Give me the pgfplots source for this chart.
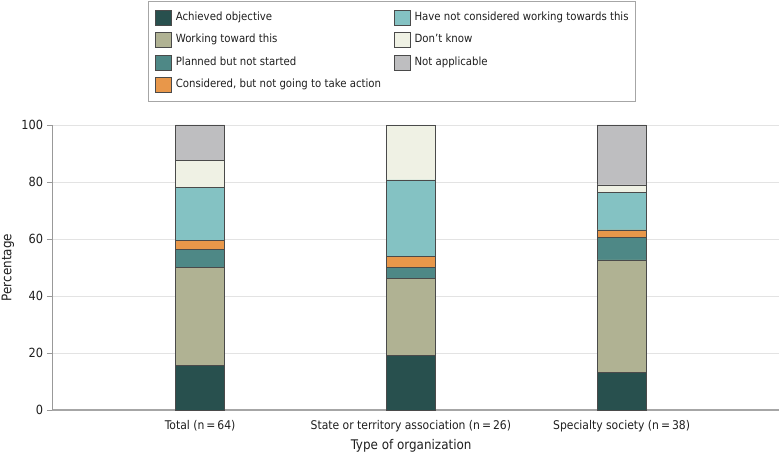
\documentclass[border=0pt]{standalone}
\usepackage{fontspec}
\setmainfont{DejaVu Sans Condensed}
\usepackage{pgfplots}
\pgfplotsset{compat=1.18}
\definecolor{cA}{HTML}{28504E}
\definecolor{cW}{HTML}{B0B293}
\definecolor{cP}{HTML}{4E8886}
\definecolor{cC}{HTML}{E8974A}
\definecolor{cH}{HTML}{84C2C3}
\definecolor{cD}{HTML}{EFF1E4}
\definecolor{cN}{HTML}{BEBEC0}
\definecolor{edge}{HTML}{4A4A4A}
\newcommand\fs{\fontsize{11.3bp}{13bp}\selectfont}
\begin{document}
\fs
\begin{tikzpicture}
\useasboundingbox (-52bp,-44bp) rectangle (728bp,410bp);
\begin{axis}[
  scale only axis, width=727bp, height=285bp,
  at={(0,0)}, anchor=south west,
  ybar stacked, bar width=49bp,
  xmin=-0.703, xmax=2.747, ymin=0, ymax=100,
  xtick={0,1,2},
  xticklabels={Total (n\,=\,64), State or territory association (n\,=\,26), Specialty society (n\,=\,38)},
  ytick={0,20,40,60,80,100},
  axis x line*=bottom, axis y line*=left,
  x axis line style={draw=gray!70, line width=1.2bp, -},
  y axis line style={draw=gray!80, line width=0.9bp, -},
  major x tick style={draw=none},
  major y tick style={draw=gray!80, line width=0.8bp},
  tick align=outside, major tick length=5bp,
  ymajorgrids, grid style={draw=gray!22, line width=0.9bp},
  /pgf/number format/assume math mode=true,
  xticklabel style={font=\fontsize{12bp}{14bp}\selectfont, text=black!88, yshift=-1bp},
  yticklabel style={font=\fontsize{12.6bp}{14bp}\selectfont, text=black!88},
  xlabel={Type of organization}, ylabel={Percentage},
  label style={font=\fontsize{13.3bp}{15bp}\selectfont, text=black!88},
  xlabel style={at={(axis description cs:0.494,-0.126)}, anchor=center},
  ylabel style={at={(axis description cs:-0.0605,0.5)}, anchor=center},
  legend image code/.code={\draw[#1, draw=edge, line width=0.5bp] (0bp,-7.6bp) rectangle (15.5bp,7.6bp);},
  legend columns=2,
  legend cell align=left,
  legend style={at={(axis description cs:0.132,1.435)}, anchor=north west,
    draw=gray!70, line width=0.8bp, inner xsep=7bp, inner ysep=8.3bp,
    font=\fs, text=black!88,
    nodes={inner sep=0pt, text height=8.5bp, text depth=2.5bp},
    row sep=6.7bp, column sep=4.5bp,
    /tikz/every even column/.append style={column sep=13bp}},
  every axis plot/.append style={draw=edge, line width=0.6bp},
]
\addlegendimage{fill=cA}\addlegendentry{Achieved objective}
\addlegendimage{fill=cH}\addlegendentry{Have not considered working towards this}
\addlegendimage{fill=cW}\addlegendentry{Working toward this}
\addlegendimage{fill=cD}\addlegendentry{Don't know}
\addlegendimage{fill=cP}\addlegendentry{Planned but not started}
\addlegendimage{fill=cN}\addlegendentry{Not applicable}
\addlegendimage{fill=cC}\addlegendentry{Considered, but not going to take action}
\addplot[fill=cA, forget plot] coordinates {(0,15.625) (1,19.231) (2,13.158)};
\addplot[fill=cW, forget plot] coordinates {(0,34.375) (1,26.923) (2,39.474)};
\addplot[fill=cP, forget plot] coordinates {(0,6.25) (1,3.846) (2,7.895)};
\addplot[fill=cC, forget plot] coordinates {(0,3.125) (1,3.846) (2,2.632)};
\addplot[fill=cH, forget plot] coordinates {(0,18.75) (1,26.923) (2,13.158)};
\addplot[fill=cD, forget plot] coordinates {(0,9.375) (1,19.231) (2,2.632)};
\addplot[fill=cN, forget plot] coordinates {(0,12.5) (1,0) (2,21.053)};
\end{axis}
\end{tikzpicture}
\end{document}
